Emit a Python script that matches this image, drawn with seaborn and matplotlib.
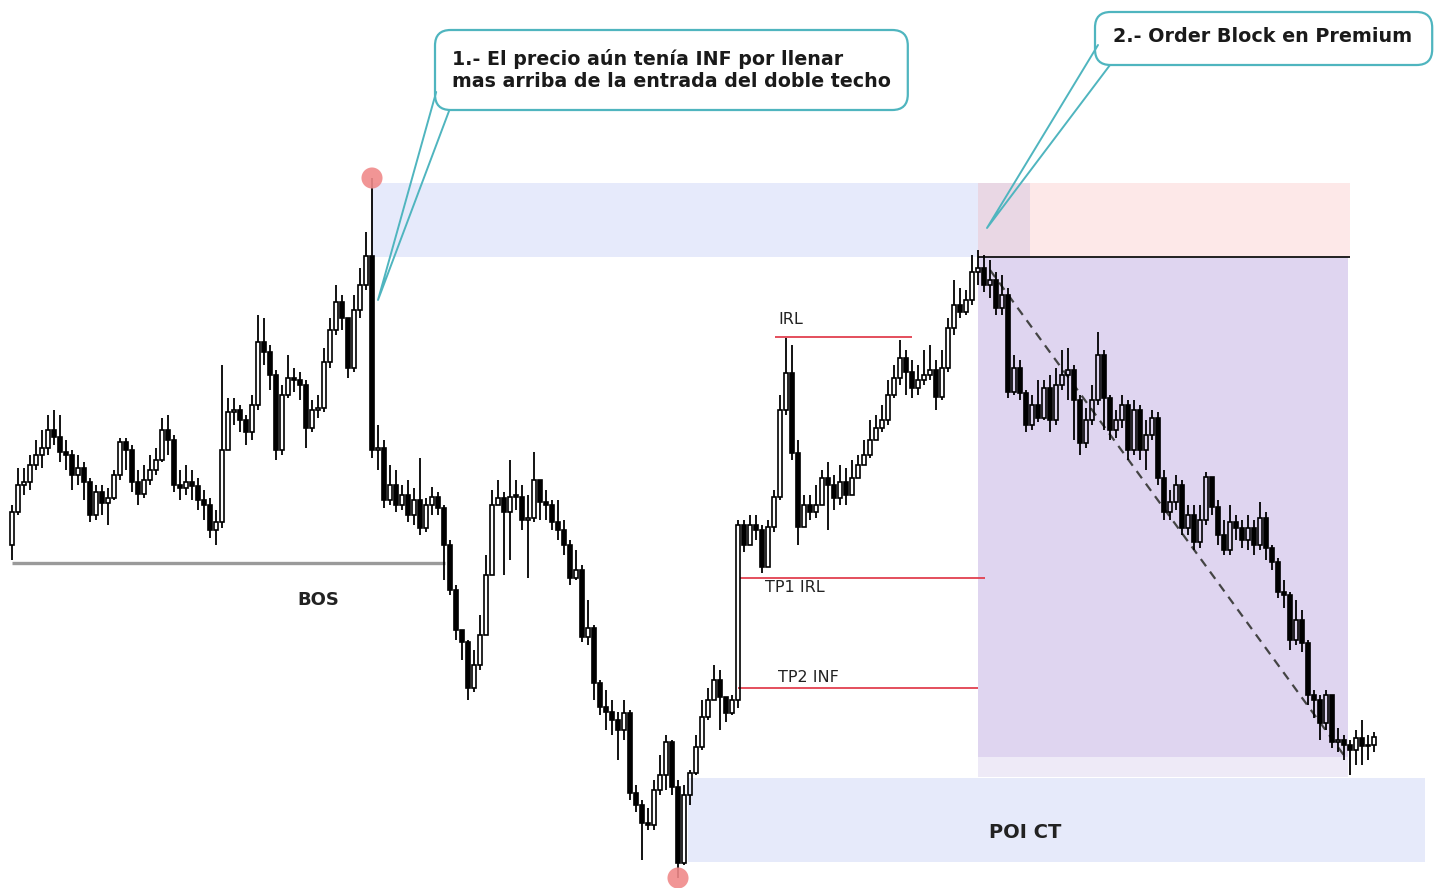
import numpy as np
import matplotlib
matplotlib.use("Agg")
import matplotlib.pyplot as plt
import seaborn as sns
from matplotlib.patches import Rectangle, FancyBboxPatch

sns.set_style("white")
plt.rcParams['font.family'] = ['DejaVu Sans']

# ---------------- data (price units) ----------------
first_open = 355
close = [
    388, 415, 418, 435, 445, 452, 470, 463, 448, 445,
    425, 432, 418, 385, 408, 397, 402, 425, 458, 450,
    418, 406, 420, 430, 440, 470, 460, 415, 412, 418,
    414, 400, 395, 370, 378, 450, 488, 490, 480, 468,
    495, 558, 548, 525, 450, 505, 522, 520, 515, 472,
    490, 492, 538, 570, 598, 582, 532, 590, 615, 644,
    450, 452, 400, 415, 395, 405, 385, 400, 372, 395,
    403, 392, 355, 310, 270, 258, 212, 235, 265, 325,
    395, 402, 388, 403, 403, 380, 382, 420, 398, 395,
    378, 370, 355, 322, 330, 263, 272, 217, 193, 188,
    180, 170, 187, 107, 95, 77, 75, 110, 125, 158,
    113, 37, 105, 127, 153, 183, 200, 220, 203, 187,
    200, 375, 355, 375, 370, 333, 373, 403, 490, 527,
    447, 373, 395, 388, 395, 422, 415, 402, 418, 405,
    422, 435, 445, 460, 472, 480, 505, 522, 542, 528,
    512, 520, 525, 530, 503, 532, 572, 595, 588, 600,
    628, 632, 615, 620, 592, 605, 508, 532, 507, 475,
    495, 482, 512, 480, 515, 525, 530, 500, 457, 480,
    500, 545, 502, 470, 480, 495, 450, 490, 450, 465,
    482, 422, 388, 398, 415, 372, 385, 358, 380, 423,
    393, 365, 350, 378, 372, 360, 372, 355, 382, 352,
    338, 308, 305, 260, 280, 257, 205, 200, 177, 205,
    158, 160, 155, 150, 162, 154, 155, 163,
]
high = [
    395, 432, 432, 445, 460, 470, 485, 490, 485, 460,
    450, 445, 438, 422, 415, 415, 412, 430, 462, 462,
    455, 430, 435, 445, 452, 482, 485, 465, 430, 435,
    430, 422, 410, 402, 390, 535, 502, 502, 495, 485,
    505, 585, 582, 555, 530, 515, 545, 532, 528, 520,
    500, 505, 552, 582, 615, 605, 582, 605, 632, 668,
    722, 475, 460, 435, 430, 415, 420, 412, 442, 402,
    413, 408, 395, 360, 315, 270, 260, 250, 285, 345,
    410, 420, 408, 440, 420, 415, 405, 448, 420, 410,
    400, 400, 380, 360, 350, 335, 300, 275, 220, 210,
    200, 188, 200, 190, 115, 100, 92, 120, 145, 165,
    160, 120, 115, 130, 165, 200, 212, 235, 230, 200,
    205, 380, 380, 385, 385, 375, 380, 410, 505, 562,
    555, 460, 405, 405, 415, 430, 438, 425, 435, 432,
    440, 445, 460, 480, 485, 495, 520, 535, 560, 550,
    540, 535, 550, 555, 540, 550, 582, 620, 612, 610,
    645, 650, 645, 640, 628, 625, 612, 545, 540, 510,
    505, 520, 520, 525, 532, 550, 552, 535, 505, 492,
    515, 568, 550, 505, 490, 505, 500, 500, 495, 480,
    490, 488, 430, 410, 425, 420, 395, 395, 395, 428,
    422, 400, 380, 395, 385, 380, 385, 380, 398, 388,
    355, 342, 320, 308, 300, 290, 260, 210, 205, 210,
    205, 172, 165, 160, 170, 180, 165, 168,
]
low = [
    340, 385, 405, 410, 430, 432, 445, 455, 438, 430,
    410, 415, 400, 378, 380, 385, 375, 400, 420, 430,
    408, 395, 402, 415, 425, 438, 445, 408, 400, 405,
    400, 390, 380, 362, 355, 372, 450, 475, 468, 455,
    460, 490, 535, 510, 440, 445, 502, 508, 500, 452,
    468, 482, 488, 532, 565, 570, 522, 528, 582, 610,
    442, 430, 392, 395, 388, 390, 378, 375, 365, 368,
    385, 385, 320, 305, 260, 240, 200, 208, 230, 270,
    340, 395, 325, 340, 390, 370, 322, 378, 380, 380,
    370, 360, 345, 315, 320, 258, 255, 200, 185, 170,
    165, 140, 160, 100, 88, 40, 70, 70, 105, 110,
    105, 22, 35, 95, 125, 150, 180, 200, 170, 178,
    185, 192, 348, 360, 360, 327, 355, 368, 400, 485,
    440, 355, 385, 380, 382, 395, 370, 390, 395, 395,
    408, 422, 435, 442, 460, 468, 475, 502, 515, 505,
    502, 505, 515, 520, 490, 500, 528, 565, 582, 585,
    595, 615, 608, 602, 585, 585, 502, 505, 500, 468,
    470, 478, 480, 468, 475, 510, 500, 460, 445, 452,
    475, 495, 470, 460, 462, 472, 440, 445, 440, 430,
    460, 415, 380, 380, 390, 365, 365, 350, 352, 375,
    385, 355, 345, 345, 360, 352, 350, 345, 350, 340,
    330, 302, 292, 250, 255, 248, 195, 182, 160, 170,
    152, 148, 140, 125, 135, 135, 140, 148,
]

# annotation levels (price) and spans (bar index)
premium_zone = (643, 717, 60, 169.7)      # low, high, start, end
ob_zone = (643, 717, 161, 223)
trade_zone = (143, 643, 161, 222.7)
trade_strip = (123, 143, 161, 222.7)
poi_zone = (38, 122, 112.7, 235.5)
entry_level = (643, 161, 223)
bos_level = (337, 0, 72.2)
irl_level = (563, 127.2, 150)
tp1_level = (322, 121.3, 162.2)
tp2_level = (212, 121, 161)
trend_x = [163, 222.2]
trend_y = [630, 143]

# ---------------- derived OHLC ----------------
c = np.array(close, dtype=float)
o = np.r_[first_open, c[:-1]].astype(float)
h = np.maximum(np.array(high, float), np.maximum(o, c))
l = np.minimum(np.array(low, float), np.minimum(o, c))
idx = np.arange(len(c))

fig = plt.figure(figsize=(14.37, 8.88), dpi=100)
ax = fig.add_axes([0, 0, 1, 1])
ax.set_xlim(-2, 237.5)
ax.set_ylim(12, 900)
ax.axis('off')

def zone(z, color, alpha, zorder=0):
    lo, hi, x0, x1 = z
    ax.add_patch(Rectangle((x0, lo), x1 - x0, hi - lo, facecolor=color,
                           alpha=alpha, edgecolor='none', zorder=zorder))

zone(trade_zone, '#dfd5f0', 1.0)
zone(trade_strip, '#eeeaf7', 1.0)
zone(poi_zone, '#e6eafa', 1.0)
zone(premium_zone, (0.55, 0.62, 0.93), 0.21, 0.5)
zone(ob_zone, (0.97, 0.55, 0.55), 0.2, 0.6)

# level lines
ax.hlines(entry_level[0], entry_level[1], entry_level[2], color='#111111', lw=1.3, zorder=2)
ax.hlines(bos_level[0], bos_level[1], bos_level[2], color='#9a9a9a', lw=2.4, zorder=2)
red = '#e2404f'
for lv in (irl_level, tp1_level, tp2_level):
    ax.hlines(lv[0], lv[1], lv[2], color=red, lw=1.3, zorder=2)

# dashed trend
sns.lineplot(x=trend_x, y=trend_y, ax=ax, color='#444444', lw=1.6,
             linestyle=(0, (4, 3)), zorder=3)

# candles
w = 0.78
bull = c >= o
body_top = np.maximum(o, c)
body_bot = np.minimum(o, c)
ax.vlines(idx, body_top, h, color='black', lw=1.3, zorder=4)
ax.vlines(idx, l, body_bot, color='black', lw=1.3, zorder=4)
for i in idx:
    hgt = max(body_top[i] - body_bot[i], 1.5)
    ax.add_patch(Rectangle((i - w / 2, body_bot[i]), w, hgt,
                           facecolor='none' if bull[i] else 'black',
                           edgecolor='black', lw=1.2, zorder=5))

# red circles at extremes
top_i = int(np.argmax(h))
bot_i = int(np.argmin(l))
ax.scatter([top_i, bot_i], [h[top_i], l[bot_i]], s=230, color='#f08a8a',
           alpha=0.9, edgecolor='none', zorder=6)

# labels
lab = dict(color='#222222', va='center', zorder=7)
ax.text(127.7, 580, 'IRL', fontsize=11.5, ha='left', **lab)
ax.text(125.5, 312, 'TP1 IRL', fontsize=11.5, ha='left', **lab)
ax.text(127.7, 222, 'TP2 INF', fontsize=11.5, ha='left', **lab)
ax.text(51, 300, 'BOS', fontsize=13, fontweight='bold', ha='center', **lab)
ax.text(168.8, 68, 'POI CT', fontsize=14, fontweight='bold', ha='center', **lab)

# callouts
teal = '#4fb5bf'
def callout(x0, y0, x1, y1, tail, text, tx, ty, fs):
    ax.add_patch(FancyBboxPatch((x0, y0), x1 - x0, y1 - y0,
                                boxstyle='round,pad=0,rounding_size=2.6',
                                mutation_aspect=6, facecolor='white',
                                edgecolor=teal, lw=1.6, zorder=8))
    (ax_, ay_), (bx_, by_), (px, py) = tail
    ax.plot([ax_, px, bx_], [ay_, py, by_], color=teal, lw=1.4, zorder=8)
    ax.text(tx, ty, text, fontsize=fs, fontweight='bold', color='#1a1a1a',
            va='center', ha='left', linespacing=1.22, zorder=9)

callout(70.5, 790, 149.3, 870, ((70.7, 808), (72.9, 790), (61.0, 600)),
        '1.- El precio aún tenía INF por llenar\nmas arriba de la entrada del doble techo',
        73.3, 830, 13.7)
callout(180.5, 835, 236.7, 888, ((181.0, 855), (183.0, 835), (162.5, 672)),
        '2.- Order Block en Premium', 183.5, 863, 13.8)

fig.savefig('out.png', dpi=100, facecolor='white')
